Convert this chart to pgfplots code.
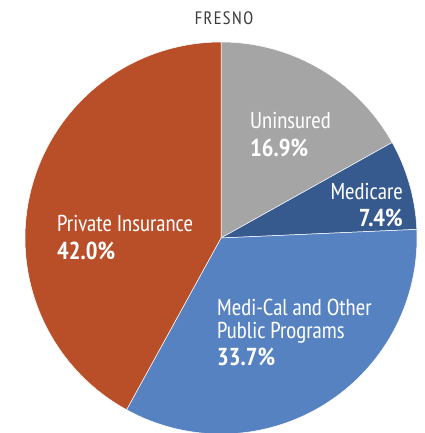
\documentclass[border=0pt]{standalone}
\usepackage{fontspec}
\IfFontExistsTF{PT Sans Narrow}{\setmainfont{PT Sans Narrow}}{\setmainfont[FakeStretch=0.82]{PT Sans}}
\usepackage{pgfplots}
\pgfplotsset{compat=1.18}

\definecolor{cGray}{HTML}{A5A5A5}
\definecolor{cMedicare}{HTML}{36598E}
\definecolor{cMediCal}{HTML}{5682C1}
\definecolor{cPrivate}{HTML}{B94F29}
\definecolor{cTitle}{HTML}{3C3C3C}

% shares in percent, clockwise from 12 o'clock
\def\sUnins{16.9}
\def\sMedicare{7.4}
\def\sMediCal{33.7}
\def\sPrivate{42.0}

\begin{document}
\begin{tikzpicture}[x=1pt,y=1pt]
\useasboundingbox (-221,-195) rectangle (203,238);
\begin{axis}[
  at={(0,0)}, anchor=origin,
  scale only axis, width=392pt, height=392pt,
  xmin=-1, xmax=1, ymin=-1, ymax=1,
  hide axis, clip=false,
  every axis plot/.append style={draw=white, line width=0.5pt, samples=120, variable=\t},
]
\addplot[fill=cGray, domain={90-3.6*\sUnins}:90]
  ({cos(\t)},{sin(\t)}) -- (axis cs:0,0) -- cycle;
\addplot[fill=cMedicare, domain={90-3.6*(\sUnins+\sMedicare)}:{90-3.6*\sUnins}]
  ({cos(\t)},{sin(\t)}) -- (axis cs:0,0) -- cycle;
\addplot[fill=cMediCal, domain={90-3.6*(\sUnins+\sMedicare+\sMediCal)}:{90-3.6*(\sUnins+\sMedicare)}]
  ({cos(\t)},{sin(\t)}) -- (axis cs:0,0) -- cycle;
\addplot[fill=cPrivate, domain={90-3.6*(\sUnins+\sMedicare+\sMediCal+\sPrivate)}:{90-3.6*(\sUnins+\sMedicare+\sMediCal)}]
  ({cos(\t)},{sin(\t)}) -- (axis cs:0,0) -- cycle;
\end{axis}

% title
\node[anchor=base, text=cTitle, font=\fontsize{18}{18}\selectfont\addfontfeature{LetterSpace=8}] at (3,213) {FRESNO};

% slice labels
\tikzset{lab/.style={text=white, inner sep=0pt, font=\fontsize{23}{23}\selectfont},
         pct/.style={text=white, inner sep=0pt, font=\fontsize{24.5}{24.5}\selectfont\bfseries}}
\node[lab, anchor=base west] at (29,109) {Uninsured};
\node[pct, anchor=base west] at (29,81) {16.9\%};
\node[lab, anchor=base east] at (182,38) {Medicare};
\node[pct, anchor=base east] at (182,11) {7.4\%};
\node[lab, anchor=base west] at (-164,6) {Private Insurance};
\node[pct, anchor=base west] at (-164,-22) {42.0\%};
\node[lab, anchor=base west] at (-4,-77) {Medi-Cal and Other};
\node[lab, anchor=base west] at (-4,-100) {Public Programs};
\node[pct, anchor=base west] at (-4,-127) {33.7\%};
\end{tikzpicture}
\end{document}
